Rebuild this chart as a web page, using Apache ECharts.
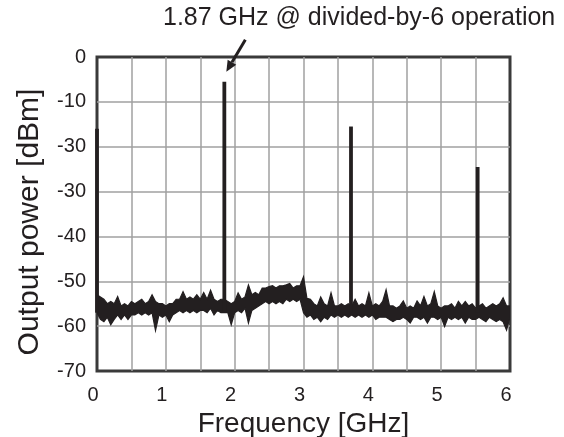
<!DOCTYPE html>
<html>
<head>
<meta charset="utf-8">
<script src="https://cdn.jsdelivr.net/npm/echarts@6/dist/echarts.min.js"></script>
<style>
html,body{margin:0;padding:0;background:#fff;}
#chart{width:564px;height:437px;}
</style>
</head>
<body>
<div id="chart"></div>
<script>
// ---- data ----
var yTickValues = [-70, -60, -50, -40, -30, -20, -10, 0];
var yTickLabels = ['-70', '-60', '-50', '-40', '-30', '-30', '-10', '0'];
var xTickLabels = ['0', '1', '2', '3', '4', '5', '6'];

// noise floor sweep: frequency (GHz), upper and lower envelope of the trace (dBm)
var noiseFreq = [
  0.00,0.05,0.10,0.15,0.20,0.25,0.30,0.35,0.40,0.45,
  0.50,0.55,0.60,0.65,0.70,0.75,0.80,0.85,0.90,0.95,
  1.00,1.05,1.10,1.15,1.20,1.25,1.30,1.35,1.40,1.45,
  1.50,1.55,1.60,1.65,1.70,1.75,1.80,1.85,1.90,1.95,
  2.00,2.05,2.10,2.15,2.20,2.25,2.30,2.35,2.40,2.45,
  2.50,2.55,2.60,2.65,2.70,2.75,2.80,2.85,2.90,2.95,
  3.00,3.05,3.10,3.15,3.20,3.25,3.30,3.35,3.40,3.45,
  3.50,3.55,3.60,3.65,3.70,3.75,3.80,3.85,3.90,3.95,
  4.00,4.05,4.10,4.15,4.20,4.25,4.30,4.35,4.40,4.45,
  4.50,4.55,4.60,4.65,4.70,4.75,4.80,4.85,4.90,4.95,
  5.00,5.05,5.10,5.15,5.20,5.25,5.30,5.35,5.40,5.45,
  5.50,5.55,5.60,5.65,5.70,5.75,5.80,5.85,5.90,5.95,
  6.00
];
var noiseUpper = [
  -53.0,-53.5,-54.0,-55.0,-54.5,-55.0,-53.4,-55.5,-55.0,-55.5,
  -54.5,-55.0,-54.5,-54.0,-55.0,-54.5,-53.0,-54.5,-55.0,-55.0,
  -55.5,-55.0,-55.0,-54.0,-54.0,-52.3,-54.0,-53.5,-54.0,-53.0,
  -54.0,-52.5,-54.0,-52.0,-54.0,-54.5,-54.0,-54.0,-54.5,-55.0,
  -54.5,-52.6,-54.0,-53.5,-50.8,-53.0,-52.5,-53.0,-51.5,-51.5,
  -51.2,-51.0,-51.5,-51.0,-51.0,-50.8,-50.5,-51.5,-51.0,-51.0,
  -49.0,-53.8,-54.0,-55.0,-55.5,-53.5,-55.0,-55.5,-52.6,-55.5,
  -55.5,-55.0,-55.5,-55.0,-55.5,-54.0,-55.5,-55.0,-55.5,-52.6,
  -55.5,-55.0,-55.5,-54.5,-51.9,-55.5,-55.5,-56.0,-55.5,-54.4,
  -56.0,-55.5,-56.0,-54.4,-55.5,-53.4,-55.5,-55.0,-52.3,-55.5,
  -56.0,-55.5,-55.5,-55.0,-56.0,-54.5,-55.5,-54.5,-55.5,-55.0,
  -56.0,-55.5,-55.0,-56.0,-55.5,-55.0,-55.5,-55.0,-53.7,-55.5,
  -55.5
];
var noiseLower = [
  -57.0,-58.5,-59.0,-58.0,-59.7,-58.5,-57.5,-58.5,-57.5,-58.5,
  -57.5,-57.5,-57.0,-57.5,-57.0,-57.5,-57.0,-61.0,-57.5,-58.0,
  -57.5,-59.0,-57.5,-57.0,-56.5,-57.0,-56.5,-57.0,-56.5,-57.0,
  -56.5,-56.5,-57.0,-56.0,-57.5,-56.5,-57.0,-57.0,-57.0,-59.7,
  -57.0,-56.5,-57.0,-56.0,-59.3,-56.5,-56.0,-55.5,-55.0,-54.5,
  -55.0,-54.5,-55.0,-54.5,-55.0,-54.0,-54.5,-54.0,-54.5,-54.0,
  -57.0,-58.0,-57.5,-58.5,-58.0,-59.0,-58.0,-58.5,-57.5,-58.0,
  -57.5,-58.0,-57.5,-58.0,-57.5,-58.0,-57.5,-58.0,-57.5,-58.0,
  -57.5,-58.5,-58.0,-58.0,-58.0,-58.5,-59.0,-58.5,-58.5,-58.0,
  -58.5,-59.3,-58.0,-58.0,-58.5,-58.0,-59.3,-58.0,-58.0,-58.5,
  -58.0,-60.1,-58.0,-58.5,-58.0,-58.5,-58.0,-59.3,-58.0,-58.5,
  -58.5,-58.0,-58.5,-59.0,-58.0,-58.5,-59.0,-58.5,-59.0,-60.9,
  -58.0
];

// harmonic peaks (GHz, dBm at top, dBm at foot)
var peakFreq = [0.00, 1.85, 3.69, 5.53];
var peakTop = [-16.0, -5.5, -15.5, -24.5];
var peakFoot = [-57.0, -57.0, -57.0, -57.0];

var annotationText = '1.87 GHz @ divided-by-6 operation';
var annotatedPeak = 1;

// ---- chart ----
var FONT = "'Liberation Sans', Arial, Helvetica, sans-serif";
var INK = '#231f20';

var series = [
  {
    // noise band: polygon between upper and lower envelope, placed through the axes
    type: 'custom',
    data: [[noiseFreq[0], noiseUpper[0]]],
    clip: true,
    z: 5,
    animation: false,
    renderItem: function (params, api) {
      var pts = [];
      for (var i = 0; i < noiseFreq.length; i++) pts.push(api.coord([noiseFreq[i], noiseUpper[i]]));
      for (var j = noiseFreq.length - 1; j >= 0; j--) pts.push(api.coord([noiseFreq[j], noiseLower[j]]));
      return {
        type: 'polygon',
        shape: { points: pts },
        style: { fill: INK, stroke: INK, lineWidth: 1.2, lineJoin: 'miter' }
      };
    }
  }
];
peakFreq.forEach(function (f, i) {
  series.push({
    type: 'line',
    data: [[f, peakFoot[i]], [f, peakTop[i]]],
    symbol: 'none',
    lineStyle: { color: INK, width: 3.8, cap: 'butt' },
    z: 6,
    animation: false
  });
});

var chart = echarts.init(document.getElementById('chart'), null, { renderer: 'canvas' });
chart.setOption({
  animation: false,
  backgroundColor: '#ffffff',
  grid: {
    left: 97, top: 57, right: 54, bottom: 66,
    outerBoundsMode: 'none', containLabel: false,
    show: true, borderColor: '#3a3a3a', borderWidth: 3,
    backgroundColor: 'transparent'
  },
  xAxis: {
    type: 'value', min: 0, max: 6, interval: 0.5,
    name: 'Frequency [GHz]', nameLocation: 'middle', nameGap: 22,
    nameTextStyle: { fontFamily: FONT, fontSize: 28, color: INK },
    axisLine: { show: false },
    axisTick: { show: false },
    axisLabel: {
      fontFamily: FONT, fontSize: 20, color: INK, margin: 14,
      padding: [0, 8, 0, 0],
      showMinLabel: true, showMaxLabel: true,
      formatter: function (v) {
        var idx = Math.round(v);
        return Math.abs(v - idx) < 1e-6 ? xTickLabels[idx] : '';
      }
    },
    splitLine: { show: true, showMinLine: false, showMaxLine: false, lineStyle: { color: '#a0a0a0', width: 1.5 } }
  },
  yAxis: {
    type: 'value', min: -70, max: 0, interval: 10,
    name: 'Output power [dBm]', nameLocation: 'middle', nameGap: 52, nameRotate: 90,
    nameTextStyle: { fontFamily: FONT, fontSize: 30, color: INK, padding: [0, 16, 0, 0] },
    axisLine: { show: false },
    axisTick: { show: false },
    axisLabel: {
      fontFamily: FONT, fontSize: 20, color: INK, margin: 11,
      showMinLabel: true, showMaxLabel: true,
      formatter: function (v) {
        var idx = yTickValues.indexOf(Math.round(v));
        return idx >= 0 ? yTickLabels[idx] : '';
      }
    },
    splitLine: { show: true, showMinLine: false, showMaxLine: false, lineStyle: { color: '#a0a0a0', width: 1.5 } }
  },
  series: series
});

// annotation arrow anchored to the annotated peak
var tip = chart.convertToPixel({ gridIndex: 0 }, [peakFreq[annotatedPeak], peakTop[annotatedPeak]]);
var tipX = tip[0] + 2, tipY = tip[1] - 10;
var tailX = tip[0] + 21, tailY = tip[1] - 42;
var ang = Math.atan2(tailY - tipY, tailX - tipX);
var headLen = 11, headHalf = 5;
var bx = tipX + headLen * Math.cos(ang), by = tipY + headLen * Math.sin(ang);
var px = -Math.sin(ang) * headHalf, py = Math.cos(ang) * headHalf;

chart.setOption({
  graphic: [
    {
      type: 'text', left: 163, top: 6,
      style: { text: annotationText, fontFamily: FONT, fontSize: 25, fill: INK }
    },
    {
      type: 'line',
      shape: { x1: tailX, y1: tailY, x2: bx, y2: by },
      style: { stroke: INK, lineWidth: 3 }
    },
    {
      type: 'polygon',
      shape: { points: [[tipX, tipY], [bx + px, by + py], [bx - px, by - py]] },
      style: { fill: INK }
    }
  ]
});
</script>
</body>
</html>
